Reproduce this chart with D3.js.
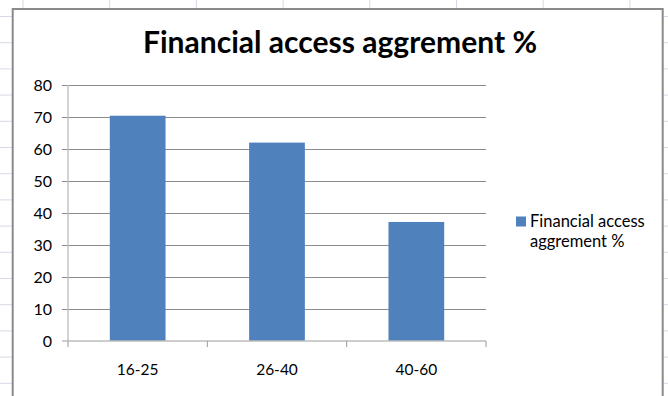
<!DOCTYPE html>
<html>
<head>
<meta charset="utf-8">
<script src="https://cdn.jsdelivr.net/npm/d3@7"></script>
<style>
    body { margin: 0; background: #fff; }
    svg { display: block; font-family: Lato, "Open Sans", sans-serif; }
    .sheet-grid { stroke: #d4dae6; stroke-width: 1; }
    .grid-line { stroke: #8c8c8c; stroke-width: 1; }
    .axis-line { stroke: #bcbcbc; stroke-width: 1.3; }
    .tick-mark { stroke: #9a9a9a; stroke-width: 1; }
</style>
</head>
<body>
<svg></svg>
<script>
'use strict';

// data
var categories = ['16-25', '26-40', '40-60'];
var values = [70.4, 62.0, 37.2];
var yTicks = [0, 10, 20, 30, 40, 50, 60, 70, 80];
var seriesName = 'Financial access aggrement %';
var legendLines = ['Financial access', 'aggrement %'];

var width = 668;
var height = 396;

// plot area
var plotLeft = 68, plotRight = 486, plotTop = 85, plotBottom = 341;

var svg = d3.select('svg')
    .attr('width', width)
    .attr('height', height);

// background sheet gridlines (outside the chart frame)
var sheetCols = d3.range(0, 8).map(function (d) { return 23 + d * 86.7; });
var sheetRows = d3.range(0, 15).map(function (d) { return 16.5 + d * 26.2; });

svg.append('g')
    .selectAll('line')
    .data(sheetCols)
    .enter()
        .append('line')
        .attr('class', 'sheet-grid')
        .attr('x1', function (d) { return d; })
        .attr('x2', function (d) { return d; })
        .attr('y1', 0)
        .attr('y2', height);

svg.append('g')
    .selectAll('line')
    .data(sheetRows)
    .enter()
        .append('line')
        .attr('class', 'sheet-grid')
        .attr('x1', 0)
        .attr('x2', width)
        .attr('y1', function (d) { return d; })
        .attr('y2', function (d) { return d; });

// chart frame
svg.append('rect')
    .attr('x', 12.7)
    .attr('y', 9)
    .attr('width', 650)
    .attr('height', 400)
    .attr('fill', '#fff')
    .attr('stroke', '#8a8a8a')
    .attr('stroke-width', 2);

// scales
var x = d3.scaleBand()
    .domain(categories)
    .range([plotLeft, plotRight])
    .paddingInner(0.6)
    .paddingOuter(0.3);

var y = d3.scaleLinear()
    .domain([0, 80])
    .range([plotBottom, plotTop]);

// horizontal gridlines
svg.append('g')
    .selectAll('line')
    .data(yTicks.filter(function (d) { return d > 0; }))
    .enter()
        .append('line')
        .attr('class', 'grid-line')
        .attr('x1', plotLeft - 6)
        .attr('x2', plotRight)
        .attr('y1', function (d) { return Math.round(y(d)) + 0.5; })
        .attr('y2', function (d) { return Math.round(y(d)) + 0.5; });

// y tick labels
svg.append('g')
    .selectAll('text')
    .data(yTicks)
    .enter()
        .append('text')
        .text(function (d) { return d; })
        .attr('x', 52)
        .attr('y', function (d) { return y(d) + 5.5; })
        .attr('text-anchor', 'end')
        .attr('font-size', 16)
        .attr('fill', '#000');

// bars
svg.append('g')
    .selectAll('rect')
    .data(values)
    .enter()
        .append('rect')
        .attr('x', function (d, i) { return x(categories[i]); })
        .attr('y', function (d) { return y(d); })
        .attr('width', x.bandwidth())
        .attr('height', function (d) { return y(0) - y(d); })
        .attr('fill', '#4f81bd');

// axis lines
svg.append('line')
    .attr('class', 'axis-line')
    .attr('x1', plotLeft).attr('x2', plotLeft)
    .attr('y1', plotTop).attr('y2', plotBottom);

svg.append('line')
    .attr('class', 'axis-line')
    .attr('x1', plotLeft - 6).attr('x2', plotRight)
    .attr('y1', plotBottom).attr('y2', plotBottom);

// category tick marks (band boundaries)
var step = x.step();
var bounds = categories.map(function (c) { return x(c) + x.bandwidth() / 2 - step / 2; });
bounds.push(x(categories[categories.length - 1]) + x.bandwidth() / 2 + step / 2);

svg.append('g')
    .selectAll('line')
    .data(bounds)
    .enter()
        .append('line')
        .attr('class', 'tick-mark')
        .attr('x1', function (d) { return d; })
        .attr('x2', function (d) { return d; })
        .attr('y1', plotBottom)
        .attr('y2', plotBottom + 6);

// category labels
svg.append('g')
    .selectAll('text')
    .data(categories)
    .enter()
        .append('text')
        .text(function (d) { return d; })
        .attr('x', function (d) { return x(d) + x.bandwidth() / 2; })
        .attr('y', 375)
        .attr('text-anchor', 'middle')
        .attr('font-size', 15.5)
        .attr('fill', '#000');

// title
svg.append('text')
    .text(seriesName)
    .attr('x', 340)
    .attr('y', 53)
    .attr('text-anchor', 'middle')
    .attr('font-size', 30)
    .attr('font-weight', 'bold')
    .attr('textLength', 394)
    .attr('lengthAdjust', 'spacingAndGlyphs')
    .attr('fill', '#000');

// legend
var legend = svg.append('g');
legend.append('rect')
    .attr('x', 516)
    .attr('y', 216.5)
    .attr('width', 10)
    .attr('height', 10)
    .attr('fill', '#4f81bd');

legend.selectAll('text')
    .data(legendLines)
    .enter()
        .append('text')
        .text(function (d) { return d; })
        .attr('x', 530)
        .attr('y', function (d, i) { return 227 + i * 20; })
        .attr('font-size', 16.5)
        .attr('fill', '#000');
</script>
</body>
</html>
